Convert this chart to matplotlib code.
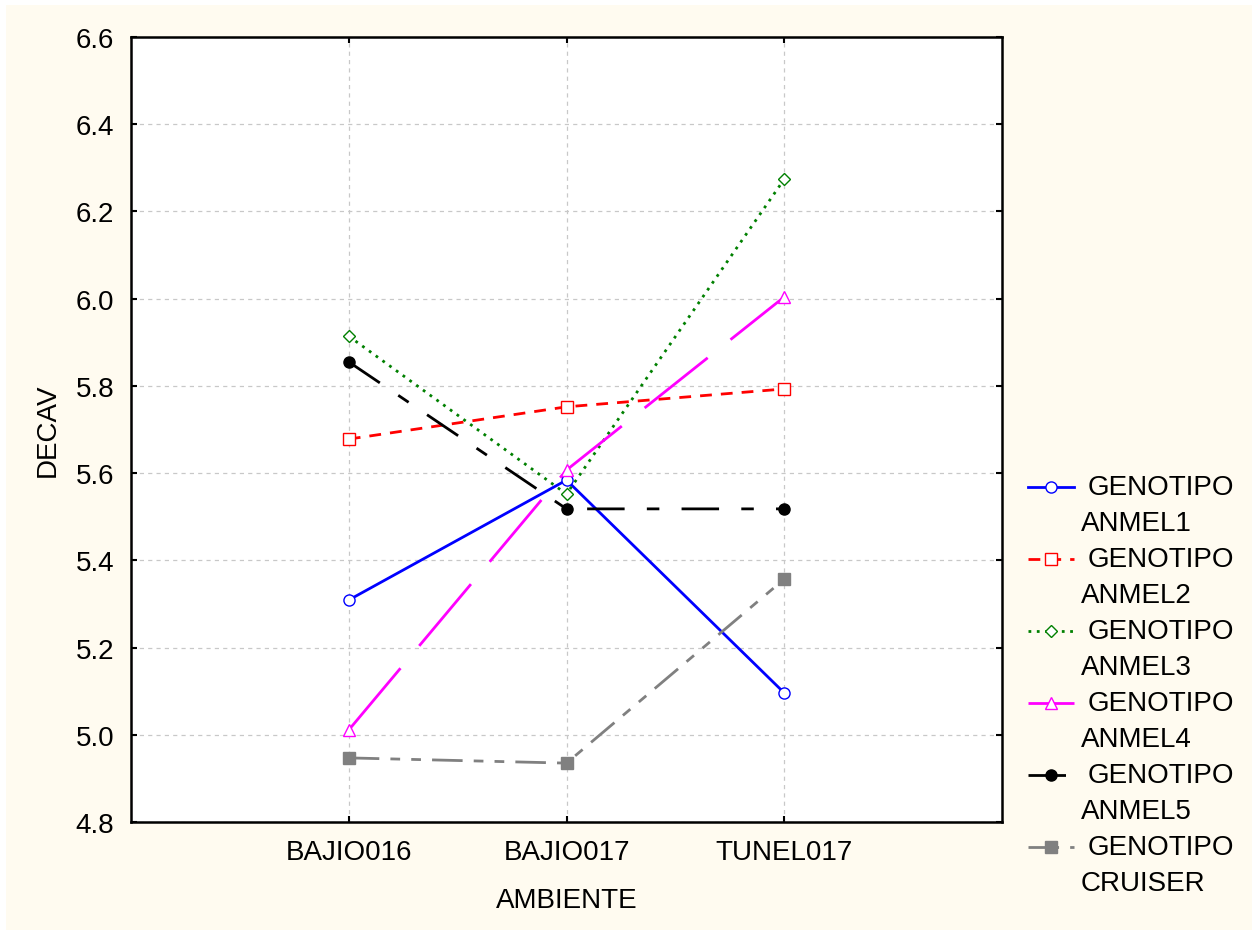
import matplotlib; matplotlib.use("Agg")
import matplotlib.pyplot as plt
from matplotlib.lines import Line2D
from matplotlib.patches import Rectangle

plt.rcParams['font.family'] = ['Liberation Sans', 'DejaVu Sans']
plt.rcParams['lines.scale_dashes'] = False

ambientes = ["BAJIO016", "BAJIO017", "TUNEL017"]
genotipos = ["ANMEL1", "ANMEL2", "ANMEL3", "ANMEL4", "ANMEL5", "CRUISER"]
anmel1 = [5.309, 5.584, 5.096]
anmel2 = [5.678, 5.752, 5.793]
anmel3 = [5.914, 5.552, 6.274]
anmel4 = [5.011, 5.607, 6.004]
anmel5 = [5.855, 5.518, 5.518]
cruiser = [4.947, 4.935, 5.357]
series = [anmel1, anmel2, anmel3, anmel4, anmel5, cruiser]
yticks = [4.8, 5.0, 5.2, 5.4, 5.6, 5.8, 6.0, 6.2, 6.4, 6.6]

# color, dashes(pt), marker, ms, filled
styles = [
    ("#0000ff", None,                   "o", 8, False),
    ("#ff0000", (8.5, 6.5),             "s", 8, False),
    ("#008000", (2, 4),                 "D", 6, False),
    ("#ff00ff", (58, 21),               "^", 8, False),
    ("#000000", (27, 16, 9, 16),        "o", 8, True),
    ("#808080", (22, 8, 7, 8, 7, 8),    "s", 8, True),
]

W, H = 1258, 937
FS = 20
LW = 2.0
fig = plt.figure(figsize=(W/100, H/100), dpi=100, facecolor="white")
fig.patches.append(Rectangle((6/W, 6/H), 1-12/W, 1-12/H, transform=fig.transFigure,
                             facecolor="#fffbf0", edgecolor="none", zorder=-10))
ax = fig.add_axes([131/W, 1-823/H, (1002-131)/W, (823-38)/H])
ax.set_facecolor("white")

x = [1, 2, 3]
for vals, (c, d, m, ms, filled) in zip(series, styles):
    ln, = ax.plot(x, vals, color=c, lw=LW, marker=m, ms=ms,
                  mfc=c if filled else "white", mec=c, mew=1.0, zorder=3)
    if d: ln.set_dashes(d)

ax.set_xlim(0, 4); ax.set_ylim(4.8, 6.6)
ax.set_xticks(x); ax.set_xticklabels(ambientes, fontsize=FS)
ax.set_yticks(yticks); ax.set_yticklabels([f"{v:.1f}" for v in yticks], fontsize=FS)
ax.grid(True, color="#c8c8c8", lw=0.9, ls=(0, (3, 3)))
ax.set_axisbelow(True)
ax.tick_params(direction="in", length=4, width=1.5, top=True, right=True)
ax.tick_params(axis="x", pad=12)
ax.tick_params(axis="y", pad=12)
for s in ax.spines.values(): s.set_linewidth(1.8)
ax.set_xlabel("AMBIENTE", fontsize=FS, labelpad=16)
ax.set_ylabel("DECAV", fontsize=FS, labelpad=11)

# legend built by hand: two-line labels with handle on the first line
for i, (g, (c, d, m, ms, filled)) in enumerate(zip(genotipos, styles)):
    yp = 488 + i*72
    yf = 1 - yp/H
    ln = Line2D([1028/W, 1074/W], [yf, yf], transform=fig.transFigure, color=c, lw=LW)
    if d: ln.set_dashes(d)
    fig.lines.append(ln)
    fig.lines.append(Line2D([1051/W], [yf], transform=fig.transFigure, marker=m, ms=ms,
                            color=c, mfc=c if filled else "white", mec=c, mew=1.0, ls="none"))
    fig.text(1088/W, yf, "GENOTIPO", fontsize=FS, va="center", ha="left")
    fig.text(1081/W, 1-(yp+36)/H, g, fontsize=FS, va="center", ha="left")

fig.savefig("out.png", dpi=100, facecolor=fig.get_facecolor())
